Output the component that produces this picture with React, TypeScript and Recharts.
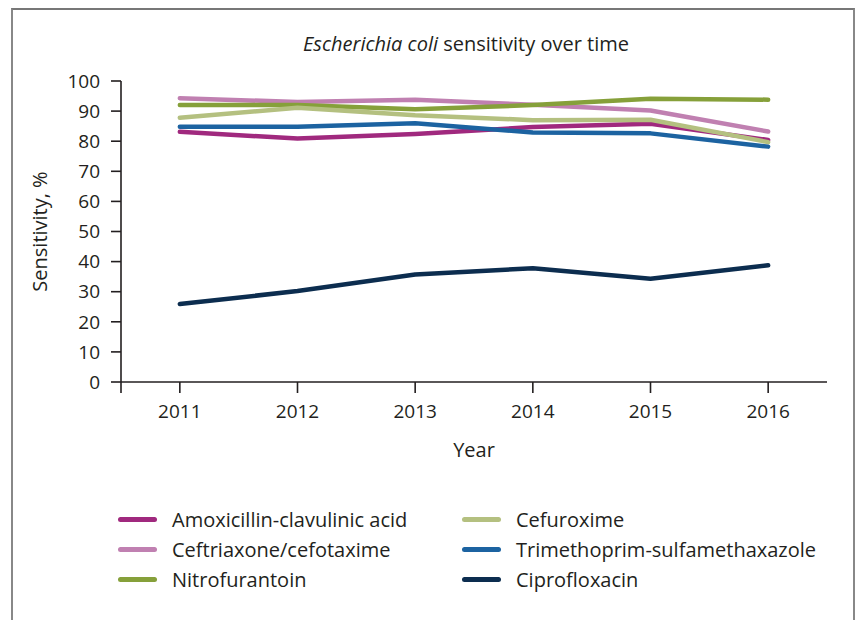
import { CartesianGrid, Label, Legend, Line, LineChart, XAxis, YAxis } from "recharts";

const YEARS = [2011, 2012, 2013, 2014, 2015, 2016];

const AMOXICILLIN = [83.1, 80.9, 82.4, 84.7, 85.8, 80.4];
const CEFTRIAXONE = [94.3, 93.0, 93.8, 92.1, 90.2, 83.2];
const NITROFURANTOIN = [92.0, 92.0, 90.6, 92.0, 94.1, 93.8];
const CEFUROXIME = [87.8, 91.1, 88.6, 87.0, 87.1, 79.7];
const TRIMETHOPRIM = [84.8, 84.8, 86.0, 82.9, 82.6, 78.2];
const CIPROFLOXACIN = [25.9, 30.2, 35.7, 37.8, 34.3, 38.8];

const Y_TICKS = [0, 10, 20, 30, 40, 50, 60, 70, 80, 90, 100];
const X_TICKS = [2010.5, ...YEARS];

// column-major order so the legend reads like the original (2 columns x 3 rows)
const SERIES = [
    { key: "amox", name: "Amoxicillin-clavulinic acid", color: "#a0297e", values: AMOXICILLIN },
    { key: "ceftri", name: "Ceftriaxone/cefotaxime", color: "#c080b1", values: CEFTRIAXONE },
    { key: "nitro", name: "Nitrofurantoin", color: "#86a03a", values: NITROFURANTOIN },
    { key: "cefur", name: "Cefuroxime", color: "#b4c080", values: CEFUROXIME },
    { key: "tmp", name: "Trimethoprim-sulfamethaxazole", color: "#1c63a1", values: TRIMETHOPRIM },
    { key: "cipro", name: "Ciprofloxacin", color: "#0c2d4f", values: CIPROFLOXACIN },
];

const data = YEARS.map((year, i) => {
    const row: any = { year };
    SERIES.forEach((s) => {
        row[s.key] = s.values[i];
    });
    return row;
});

const FONT = "'Open Sans', sans-serif";
const INK = "#231f20";

function LegendGrid({ payload }: any) {
    // recharts sorts legend items by name, put them back in series order
    const order = SERIES.map((s) => s.name);
    const items = [...(payload || [])].sort((a: any, b: any) => order.indexOf(a.value) - order.indexOf(b.value));
    return (
        <div
            style={{
                display: "grid",
                gridTemplateRows: "repeat(3, 30px)",
                gridAutoFlow: "column",
                gridTemplateColumns: "344px 370px",
                fontFamily: FONT,
                fontSize: 20,
                color: INK,
            }}
        >
            {items.map((item: any) => (
                <div key={item.value} style={{ display: "flex", alignItems: "center" }}>
                    <span
                        style={{
                            display: "inline-block",
                            width: 39,
                            height: 5,
                            borderRadius: 3,
                            background: item.color,
                            marginRight: 15,
                        }}
                    />
                    <span>{item.value}</span>
                </div>
            ))}
        </div>
    );
}

export default function App() {
    return (
        <div style={{ position: "absolute", left: 0, top: 0, width: 857, height: 620, background: "#fff" }}>
            <div
                style={{
                    position: "absolute",
                    left: 11,
                    top: 8,
                    width: 840,
                    height: 620,
                    borderTop: "2px solid #777",
                    borderLeft: "2px solid #888",
                    borderRight: "2px solid #888",
                }}
            />
            <div
                style={{
                    position: "absolute",
                    left: 113,
                    width: 706,
                    top: 30,
                    textAlign: "center",
                    fontFamily: FONT,
                    fontSize: 20,
                    color: INK,
                }}
            >
                <i>Escherichia coli</i> sensitivity over time
            </div>
            <LineChart
                width={857}
                height={620}
                data={data}
                margin={{ top: 81, right: 30, left: 21, bottom: 158 }}
                style={{ position: "absolute", left: 0, top: 0 }}
            >
                <CartesianGrid stroke="none" />
                <XAxis
                    dataKey="year"
                    type="number"
                    domain={[2010.5, 2016.5]}
                    ticks={X_TICKS}
                    interval={0}
                    tickFormatter={(v) => (Number.isInteger(v) ? String(v) : "")}
                    height={80}
                    tickSize={11}
                    tickMargin={12}
                    axisLine={{ stroke: INK, strokeWidth: 1.6 }}
                    tickLine={{ stroke: INK, strokeWidth: 1.6 }}
                    tick={{ fill: INK, fontSize: 19, fontFamily: FONT }}
                >
                    <Label
                        value="Year"
                        position="insideBottom"
                        offset={5}
                        style={{ fill: INK, fontSize: 20, fontFamily: FONT }}
                    />
                </XAxis>
                <YAxis
                    domain={[0, 100]}
                    ticks={Y_TICKS}
                    interval={0}
                    width={100}
                    tickSize={10}
                    tickMargin={11}
                    axisLine={{ stroke: INK, strokeWidth: 1.6 }}
                    tickLine={{ stroke: INK, strokeWidth: 1.6 }}
                    tick={{ fill: INK, fontSize: 19, fontFamily: FONT }}
                >
                    <Label
                        value="Sensitivity, %"
                        angle={-90}
                        position="insideLeft"
                        offset={19}
                        style={{ fill: INK, fontSize: 20, fontFamily: FONT, textAnchor: "middle" }}
                    />
                </YAxis>
                <Legend
                    layout="horizontal"
                    verticalAlign="middle"
                    align="center"
                    content={<LegendGrid />}
                    wrapperStyle={{ position: "absolute", left: 118, top: 504, width: 720 }}
                />
                {SERIES.map((s) => (
                    <Line
                        key={s.key}
                        dataKey={s.key}
                        name={s.name}
                        stroke={s.color}
                        strokeWidth={4.5}
                        dot={false}
                        activeDot={false}
                        strokeLinejoin="round"
                        strokeLinecap="round"
                        isAnimationActive={false}
                    />
                ))}
            </LineChart>
        </div>
    );
}
